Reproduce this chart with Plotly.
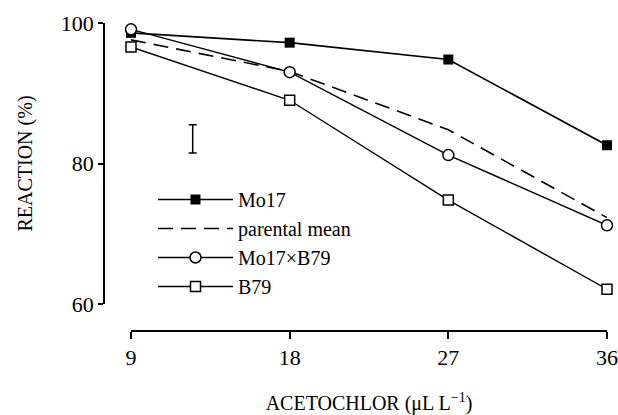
import plotly.graph_objects as go

# ---- data ----
acetochlor = [9, 18, 27, 36]
mo17 = [98.6, 97.2, 94.8, 82.6]
parental_mean = [97.6, 93.1, 84.8, 72.3]
mo17xb79 = [99.1, 93.0, 81.2, 71.2]
b79 = [96.6, 89.0, 74.8, 62.1]
lsd_x = [12.5]
lsd_y = [83.5]
lsd_half = [2.0]
x_ticks = [9, 18, 27, 36]
y_ticks = [60, 80, 100]

W, H = 618, 415
FONT = "Liberation Serif"

def px(x):
    return x / W

def py(y):
    return 1 - y / H

fig = go.Figure()

fig.add_trace(go.Scatter(
    x=acetochlor, y=mo17, name="Mo17", mode="lines+markers",
    line=dict(color="black", width=1.6),
    marker=dict(symbol="square", size=10, color="black"),
    cliponaxis=False))
fig.add_trace(go.Scatter(
    x=acetochlor, y=parental_mean, name="parental mean", mode="lines",
    line=dict(color="black", width=1.6, dash="15px,8px"),
    cliponaxis=False))
fig.add_trace(go.Scatter(
    x=acetochlor, y=mo17xb79, name="Mo17×B79", mode="lines+markers",
    line=dict(color="black", width=1.4),
    marker=dict(symbol="circle", size=11, color="white",
                line=dict(color="black", width=1.5)),
    cliponaxis=False))
fig.add_trace(go.Scatter(
    x=acetochlor, y=b79, name="B79", mode="lines+markers",
    line=dict(color="black", width=1.4),
    marker=dict(symbol="square", size=10, color="white",
                line=dict(color="black", width=1.5)),
    cliponaxis=False))
fig.add_trace(go.Scatter(
    x=lsd_x, y=lsd_y, mode="markers", showlegend=False,
    marker=dict(size=1, color="rgba(0,0,0,0)"),
    error_y=dict(type="data", array=lsd_half, visible=True,
                 color="black", thickness=1.5, width=4),
    cliponaxis=False))

fig.update_layout(
    width=W, height=H,
    margin=dict(l=0, r=0, t=0, b=0, autoexpand=False),
    paper_bgcolor="white", plot_bgcolor="white",
    font=dict(family=FONT, size=20, color="black"),
    xaxis=dict(
        domain=[px(131), px(607)], range=[9, 36],
        anchor="free", position=py(331), automargin=False,
        tickvals=x_ticks, ticktext=[str(v) for v in x_ticks],
        showline=True, linecolor="black", linewidth=1.5,
        ticks="outside", ticklen=7, tickwidth=1.5, tickcolor="black",
        showgrid=False, zeroline=False,
        tickfont=dict(family=FONT, size=22),
        title=dict(text="ACETOCHLOR (μL L<sup>−1</sup>)",
                   font=dict(family=FONT, size=20), standoff=30),
    ),
    yaxis=dict(
        domain=[py(304), py(23)], range=[60, 100],
        anchor="free", position=px(104), automargin=False,
        tickvals=y_ticks, ticktext=[str(v) for v in y_ticks],
        showline=True, linecolor="black", linewidth=1.5,
        ticks="outside", ticklen=5, tickwidth=1.5, tickcolor="black",
        showgrid=False, zeroline=False,
        tickfont=dict(family=FONT, size=22),
        title=dict(text="REACTION (%)", font=dict(family=FONT, size=20),
                   standoff=22),
    ),
    legend=dict(
        x=px(153), y=py(180), xanchor="left", yanchor="top",
        bgcolor="rgba(0,0,0,0)", borderwidth=0,
        font=dict(family=FONT, size=20),
        itemwidth=75, tracegroupgap=0,
    ),
    showlegend=True,
)

fig.write_html("out.html",
               config={"displayModeBar": False},
               post_script="document.body.style.margin='0px';"
                           "document.body.style.padding='0px';")
